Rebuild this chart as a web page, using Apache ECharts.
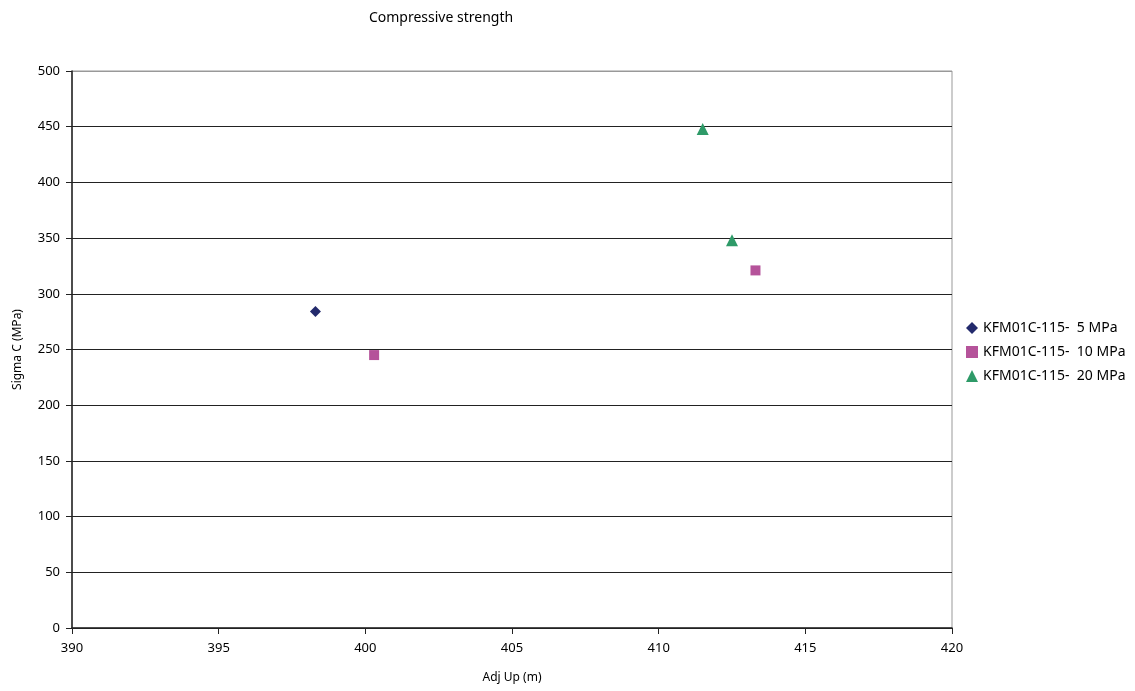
<!DOCTYPE html>
<html><head><meta charset="utf-8">
<script src="https://cdn.jsdelivr.net/npm/echarts@6/dist/echarts.min.js"></script>
<style>html,body{margin:0;padding:0;background:#fff}#c{width:1135px;height:691px}</style>
</head><body><div id="c"></div>
<script>
const seriesNames = ['KFM01C-115-  5 MPa', 'KFM01C-115-  10 MPa', 'KFM01C-115-  20 MPa'];
const s5 = [[398.3, 284]];
const s10 = [[400.3, 245], [413.3, 321]];
const s20 = [[411.5, 448], [412.5, 348]];
const xTicks = [390, 395, 400, 405, 410, 415, 420];
const yTicks = [0, 50, 100, 150, 200, 250, 300, 350, 400, 450, 500];

const font = 'Noto Sans';
const gridColors = yTicks.map((v, i) => i === yTicks.length - 1 ? '#999' : '#222');
const chart = echarts.init(document.getElementById('c'));
chart.setOption({
  animation: false,
  title: { text: 'Compressive strength', left: 436, top: 6, textAlign: 'center',
    textStyle: { fontFamily: font, fontSize: 14, fontWeight: 'normal', color: '#000' } },
  grid: { left: 72, right: 183, top: 71, bottom: 63, show: true, borderColor: '#999', borderWidth: 1 },
  legend: { orient: 'vertical', left: 961, top: 316, itemGap: 10, itemWidth: 12, itemHeight: 12,
    textStyle: { fontFamily: font, fontSize: 14, color: '#000' },
    data: seriesNames },
  xAxis: { type: 'value', min: 390, max: 420, interval: 5,
    name: 'Adj Up (m)', nameLocation: 'middle', nameGap: 44,
    nameTextStyle: { fontFamily: font, fontSize: 12, color: '#000' },
    axisLine: { onZero: false, lineStyle: { color: '#222', width: 1.5 } },
    axisTick: { show: true, length: 6, lineStyle: { color: '#222' } },
    axisLabel: { fontFamily: font, fontSize: 13, color: '#000', margin: 14 },
    splitLine: { show: false } },
  yAxis: { type: 'value', min: 0, max: 500, interval: 50,
    name: 'Sigma C (MPa)', nameLocation: 'middle', nameGap: 48,
    nameTextStyle: { fontFamily: font, fontSize: 12, color: '#000' },
    axisLine: { show: true, lineStyle: { color: '#222', width: 1.5 } },
    axisTick: { show: true, length: 6, lineStyle: { color: '#222' } },
    axisLabel: { fontFamily: font, fontSize: 13, color: '#000', margin: 12 },
    splitLine: { show: true, lineStyle: { color: gridColors, width: 1 } } },
  series: [
    { name: seriesNames[0], type: 'scatter', data: s5, symbol: 'diamond', symbolSize: 11,
      itemStyle: { color: '#232a6c', opacity: 1 } },
    { name: seriesNames[1], type: 'scatter', data: s10, symbol: 'rect', symbolSize: 10,
      itemStyle: { color: '#b5539a', opacity: 1 } },
    { name: seriesNames[2], type: 'scatter', data: s20, symbol: 'triangle', symbolSize: 12,
      itemStyle: { color: '#2e9a68', opacity: 1 } }
  ]
});
</script></body></html>
